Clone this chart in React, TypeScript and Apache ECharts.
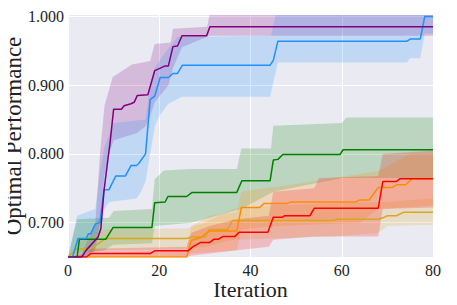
import React, { useEffect, useRef } from "react";
import * as echarts from "echarts";

// x tick labels / y tick labels
const xTicks = [0, 20, 40, 60, 80];
const yTicks = [0.7, 0.8, 0.9, 1.0];

// mean curves [iteration, performance]
const purpleMean = [[0,0.65],[3,0.65],[4,0.66],[6.6,0.679],[7.2,0.691],[7.9,0.747],[8.8,0.795],[9.2,0.815],[10,0.865],[11.7,0.865],[12.3,0.87],[13.8,0.873],[14.5,0.875],[15.2,0.885],[17.5,0.886],[19,0.921],[20,0.924],[21.3,0.928],[22,0.928],[23,0.956],[24,0.957],[25,0.972],[30.4,0.972],[31.1,0.985],[80,0.985]];
const purpleLo = [[0,0.65],[3,0.65],[6,0.66],[7,0.70],[8,0.77],[9,0.80],[10,0.82],[15,0.83],[17,0.84],[18,0.855],[19,0.875],[22,0.90],[23,0.925],[25,0.955],[31,0.972],[80,0.972]];
const purpleHi = [[0,0.65],[3,0.655],[6,0.70],[7,0.80],[8,0.87],[9.8,0.912],[11,0.917],[14,0.93],[18,0.935],[19,0.96],[22.5,0.962],[23,0.982],[30.5,0.985],[31,1.002],[80,1.002]];

const blueMean = [[0,0.65],[1,0.65],[2.2,0.677],[4,0.677],[4.5,0.684],[5,0.684],[6,0.698],[7,0.70],[7.9,0.748],[9,0.748],[9.5,0.755],[10.5,0.768],[12.6,0.768],[13.8,0.783],[15,0.783],[15.5,0.786],[17,0.80],[18,0.879],[19,0.884],[20.2,0.911],[22,0.911],[23,0.917],[24,0.917],[25.1,0.929],[44.3,0.929],[45,0.936],[46,0.964],[74.3,0.964],[75,0.967],[77.2,0.967],[78.2,1.0],[80,1.0]];
const blueLo = [[0,0.65],[5,0.652],[6,0.665],[7,0.69],[8,0.72],[9,0.73],[15,0.735],[16,0.745],[17,0.76],[18,0.80],[19,0.84],[20,0.855],[22,0.873],[25,0.883],[44.3,0.883],[46,0.933],[74.3,0.933],[75,0.939],[77.2,0.939],[78.2,0.975],[80,0.975]];
const blueHi = [[0,0.65],[2,0.71],[6,0.72],[7,0.775],[8,0.81],[10,0.845],[17,0.85],[18,0.9],[19,0.925],[21,0.945],[24,0.97],[44.5,0.972],[45.5,1.002],[80,1.002]];

const greenMean = [[0,0.65],[2,0.65],[2.5,0.676],[8.3,0.676],[9.9,0.693],[18.4,0.693],[19,0.729],[21.3,0.73],[21.9,0.738],[26,0.738],[27.2,0.744],[37,0.744],[38.1,0.761],[44.3,0.761],[45,0.791],[46,0.792],[47.1,0.799],[59.6,0.799],[60.3,0.806],[80,0.806]];
const greenLo = [[0,0.65],[2,0.655],[8,0.66],[9.9,0.668],[18.4,0.67],[19,0.695],[27,0.70],[38,0.72],[45,0.745],[60,0.765],[80,0.765]];
const greenHi = [[0,0.65],[2,0.705],[9,0.707],[10,0.717],[18.4,0.72],[19,0.763],[21,0.776],[27,0.778],[37,0.778],[38,0.808],[44.5,0.808],[45,0.841],[60,0.845],[61,0.853],[80,0.853]];

const goldMean = [[0,0.65],[2,0.662],[5,0.662],[8.3,0.677],[26,0.677],[27,0.679],[30,0.679],[31,0.69],[35,0.69],[36,0.703],[58,0.703],[59,0.705],[68,0.705],[69,0.707],[70,0.71],[72,0.71],[73.5,0.715],[80,0.715]];
const goldLo = [[0,0.65],[2,0.652],[8,0.66],[26,0.662],[30,0.665],[36,0.675],[58,0.68],[68,0.685],[70,0.695],[80,0.697]];
const goldHi = [[0,0.65],[2,0.672],[8,0.69],[26,0.692],[30,0.70],[36,0.72],[45,0.725],[58,0.728],[70,0.73],[80,0.735]];

const orangeMean = [[0,0.65],[26,0.65],[27,0.674],[29,0.678],[31,0.688],[37,0.688],[38,0.722],[42,0.722],[43,0.728],[48,0.728],[49,0.73],[63,0.73],[64,0.733],[66,0.733],[68,0.751],[71,0.751],[72,0.755],[74,0.755],[75.5,0.764],[80,0.764]];
const orangeLo = [[0,0.65],[26,0.65],[27,0.655],[37,0.66],[38,0.69],[45,0.695],[64,0.70],[68,0.72],[80,0.725]];
const orangeHi = [[0,0.65],[4,0.655],[26,0.66],[27,0.695],[31,0.71],[37,0.715],[38,0.745],[43,0.75],[49,0.755],[68,0.775],[75,0.80],[80,0.80]];

const redMean = [[0,0.65],[4,0.65],[5,0.655],[18,0.655],[19,0.659],[26.3,0.659],[27.4,0.665],[29,0.671],[31,0.671],[32,0.676],[33,0.676],[34,0.68],[36.6,0.68],[37.5,0.686],[43.8,0.686],[45,0.708],[47,0.708],[47.5,0.71],[53,0.71],[54,0.721],[68,0.721],[69,0.76],[72,0.76],[72.8,0.764],[80,0.764]];
const redLo = [[0,0.65],[26,0.65],[27,0.652],[37,0.66],[44,0.665],[45,0.675],[54,0.68],[68,0.68],[69,0.72],[80,0.722]];
const redHi = [[0,0.65],[4,0.655],[5,0.662],[26,0.665],[27,0.685],[31,0.695],[37,0.705],[44,0.71],[45,0.745],[54,0.75],[55,0.765],[68,0.768],[69,0.80],[80,0.805]];

const groups = [
  { name: "purple", color: "#800080", band: "rgba(128,0,128,0.2)", mean: purpleMean, lo: purpleLo, hi: purpleHi },
  { name: "blue", color: "#1E90FF", band: "rgba(30,144,255,0.2)", mean: blueMean, lo: blueLo, hi: blueHi },
  { name: "green", color: "#008000", band: "rgba(0,128,0,0.2)", mean: greenMean, lo: greenLo, hi: greenHi },
  { name: "gold", color: "#DAA520", band: "rgba(218,165,32,0.2)", mean: goldMean, lo: goldLo, hi: goldHi },
  { name: "orange", color: "#FF8C00", band: "rgba(255,140,0,0.2)", mean: orangeMean, lo: orangeLo, hi: orangeHi },
  { name: "red", color: "#FF0000", band: "rgba(255,0,0,0.2)", mean: redMean, lo: redLo, hi: redHi },
];
const lineOrder = ["gold", "orange", "red", "green", "blue", "purple"];

const FONT = "Liberation Serif";

export default function App() {
  const ref = useRef<HTMLDivElement>(null);
  useEffect(() => {
    if (!ref.current) return;
    const chart = echarts.init(ref.current, null, { renderer: "svg" });
    const bandSeries = groups.map((g) => ({
      type: "custom",
      name: g.name + "-band",
      data: [[0, 0.7]],
      clip: true,
      silent: true,
      z: 1,
      renderItem: (params: any, api: any) => {
        const pts = g.hi.map((p) => api.coord(p)).concat(
          g.lo.slice().reverse().map((p) => api.coord(p))
        );
        return { type: "polygon", shape: { points: pts }, style: { fill: g.band, stroke: "none" } };
      },
    }));
    const lineSeries = lineOrder.map((n, i) => {
      const g = groups.find((x) => x.name === n)!;
      return {
        type: "line",
        name: g.name,
        data: g.mean,
        showSymbol: false,
        symbol: "none",
        z: 3 + i,
        lineStyle: { color: g.color, width: 1.5 },
        itemStyle: { color: g.color },
      };
    });
    chart.setOption({
      animation: false,
      textStyle: { fontFamily: FONT },
      grid: {
        left: 68, right: 24, top: 15, bottom: 48,
        show: true, backgroundColor: "#EAEAF2", borderWidth: 0,
        containLabel: false, outerBoundsMode: "none",
      },
      xAxis: {
        type: "value",
        min: 0,
        max: 80,
        interval: 20,
        name: "Iteration",
        nameLocation: "middle",
        nameGap: 21,
        nameMoveOverlap: false,
        nameTextStyle: { fontFamily: FONT, fontSize: 22, color: "#222" },
        axisLine: { show: false },
        axisTick: { show: false },
        axisLabel: { fontFamily: FONT, fontSize: 16, color: "#222", margin: 5, customValues: xTicks },
        splitLine: { show: true, lineStyle: { color: "#FFFFFF", width: 1 } },
      },
      yAxis: {
        type: "value",
        min: 0.65,
        max: 1.002,
        name: "Optimal Performance",
        nameLocation: "middle",
        nameGap: 43,
        nameMoveOverlap: false,
        nameTextStyle: { fontFamily: FONT, fontSize: 23, color: "#222" },
        axisLine: { show: false },
        axisTick: { show: false, customValues: yTicks },
        axisLabel: {
          fontFamily: FONT,
          fontSize: 16,
          color: "#222",
          margin: 4,
          customValues: yTicks,
          formatter: (v: number) => v.toFixed(3),
        },
        splitLine: { show: true, lineStyle: { color: "#FFFFFF", width: 1 } },
      },
      series: [...bandSeries, ...lineSeries],
    });
    return () => chart.dispose();
  }, []);
  return <div ref={ref} style={{ width: 457, height: 305, margin: -8 }} />;
}
